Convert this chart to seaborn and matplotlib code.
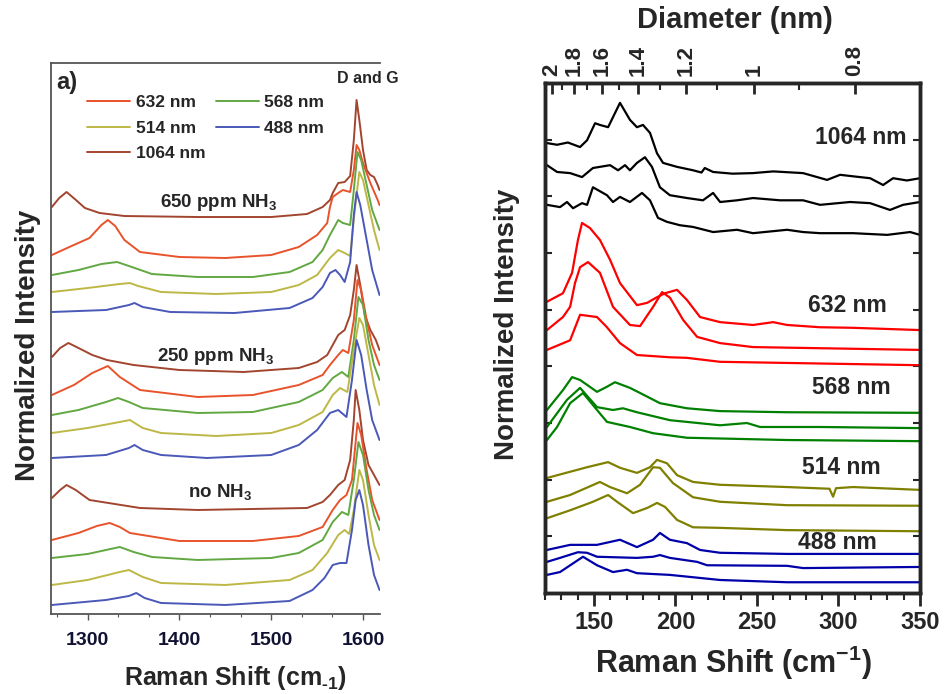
import matplotlib
matplotlib.use('Agg')
import matplotlib.pyplot as plt
import seaborn as sns
import pandas as pd
from matplotlib.ticker import MultipleLocator

sns.set_style('ticks')
plt.rcParams['font.family'] = ['Liberation Sans', 'DejaVu Sans']
plt.rcParams['font.weight'] = 'bold'
plt.rcParams['mathtext.fontset'] = 'custom'
plt.rcParams['mathtext.rm'] = 'Liberation Sans:bold'
plt.rcParams['mathtext.default'] = 'rm'

# ---- left panel: D and G bands, (shift cm-1, normalized intensity) ----
g650_1064 = [(1261, 40.7), (1269, 41.6), (1277, 42.2), (1286, 41.5), (1297, 40.6), (1313, 40.1), (1340, 39.8),
             (1420, 39.7), (1500, 39.7), (1539, 40.0), (1556, 40.7), (1564, 41.4), (1567, 42.1), (1573, 43.1),
             (1580, 43.2), (1586, 43.8), (1590, 47.4), (1593, 51.4), (1596, 49.4), (1600, 46.4), (1604, 44.4),
             (1608, 43.9), (1612, 43.7), (1616, 42.9), (1618, 42.4)]
g650_632 = [(1261, 35.9), (1280, 36.7), (1302, 37.6), (1315, 38.9), (1322, 39.4), (1330, 38.8), (1340, 37.4),
            (1357, 36.2), (1400, 35.7), (1450, 35.6), (1500, 35.9), (1530, 36.7), (1550, 37.9), (1561, 39.1),
            (1564, 40.7), (1567, 41.7), (1573, 42.1), (1578, 42.4), (1586, 42.2), (1590, 44.4), (1593, 46.9),
            (1596, 46.4), (1600, 45.1), (1608, 43.1), (1616, 41.4), (1618, 40.9)]
g650_568 = [(1261, 33.9), (1290, 34.4), (1315, 35.0), (1332, 35.2), (1345, 34.8), (1370, 34.0), (1420, 33.7),
            (1480, 33.7), (1520, 34.2), (1545, 35.2), (1556, 36.4), (1564, 37.9), (1573, 39.4), (1578, 39.1),
            (1586, 38.9), (1590, 42.4), (1594, 46.2), (1598, 45.4), (1604, 42.9), (1610, 40.4), (1618, 38.4)]
g650_514 = [(1261, 32.2), (1300, 32.6), (1335, 33.0), (1346, 33.1), (1355, 32.8), (1380, 32.2), (1440, 32.0),
            (1500, 32.2), (1530, 32.9), (1550, 33.9), (1564, 35.6), (1573, 36.4), (1580, 36.1), (1586, 35.8),
            (1591, 40.4), (1596, 44.2), (1600, 43.4), (1606, 40.9), (1612, 38.4), (1618, 36.4)]
g650_488 = [(1261, 30.2), (1320, 30.4), (1345, 30.9), (1351, 31.1), (1360, 30.7), (1390, 30.2), (1460, 30.1),
            (1520, 30.6), (1545, 31.6), (1556, 32.7), (1564, 34.1), (1570, 34.4), (1575, 33.9), (1580, 33.2),
            (1586, 35.2), (1590, 39.9), (1593, 42.2), (1597, 40.9), (1604, 37.4), (1610, 34.4), (1618, 31.9)]

g250_1064 = [(1261, 25.7), (1270, 26.6), (1279, 27.1), (1290, 26.6), (1305, 25.9), (1321, 25.4), (1350, 24.9),
             (1400, 24.4), (1470, 24.2), (1530, 24.6), (1550, 25.2), (1561, 25.9), (1567, 26.9), (1573, 27.9),
             (1580, 28.4), (1586, 29.9), (1590, 32.4), (1593, 34.9), (1597, 32.9), (1602, 29.9), (1608, 28.4),
             (1614, 27.4), (1618, 26.4)]
g250_632 = [(1261, 21.9), (1285, 22.9), (1305, 24.1), (1322, 24.8), (1335, 23.7), (1357, 22.4), (1420, 21.7),
            (1480, 21.9), (1530, 22.9), (1556, 23.9), (1564, 24.9), (1573, 25.9), (1578, 26.4), (1584, 26.1),
            (1590, 29.4), (1594, 33.4), (1598, 32.4), (1604, 29.4), (1610, 26.9), (1618, 24.9)]
g250_568 = [(1261, 19.9), (1290, 20.4), (1320, 21.2), (1333, 21.6), (1345, 21.2), (1360, 20.6), (1420, 20.1),
            (1480, 20.2), (1530, 21.2), (1556, 22.4), (1567, 23.6), (1577, 24.2), (1584, 23.7), (1590, 27.4),
            (1595, 31.7), (1600, 30.9), (1606, 27.4), (1612, 24.9), (1618, 23.4)]
g250_514 = [(1261, 18.1), (1300, 18.6), (1335, 19.2), (1346, 19.4), (1360, 18.6), (1380, 18.1), (1440, 17.8),
            (1500, 18.1), (1530, 18.9), (1556, 20.2), (1567, 21.9), (1575, 22.6), (1583, 22.2), (1590, 26.4),
            (1596, 29.6), (1600, 28.9), (1606, 25.9), (1612, 22.9), (1618, 20.9)]
g250_488 = [(1261, 15.6), (1320, 15.9), (1345, 16.6), (1351, 16.9), (1360, 16.4), (1380, 15.9), (1430, 15.6),
            (1500, 15.9), (1530, 16.9), (1550, 18.4), (1564, 20.1), (1573, 20.4), (1582, 19.7), (1588, 23.4),
            (1593, 27.4), (1598, 25.9), (1604, 22.4), (1610, 19.4), (1618, 17.4)]

g0_1064 = [(1261, 11.6), (1270, 12.4), (1277, 12.9), (1287, 12.4), (1302, 11.4), (1357, 10.6), (1420, 10.4),
           (1539, 10.6), (1556, 11.2), (1564, 11.9), (1573, 12.9), (1580, 13.4), (1586, 15.4), (1590, 19.4),
           (1592, 22.4), (1596, 20.4), (1600, 17.4), (1606, 14.9), (1612, 13.9), (1618, 12.9)]
g0_632 = [(1261, 7.4), (1290, 8.1), (1310, 8.8), (1324, 9.1), (1335, 8.7), (1346, 8.1), (1400, 7.3), (1480, 7.3),
          (1530, 7.8), (1556, 8.7), (1567, 10.4), (1575, 11.4), (1582, 11.9), (1588, 13.4), (1594, 19.1),
          (1598, 17.9), (1604, 14.4), (1610, 11.4), (1618, 9.4)]
g0_568 = [(1261, 5.6), (1300, 6.0), (1325, 6.5), (1335, 6.7), (1350, 6.2), (1370, 5.7), (1420, 5.4), (1500, 5.6),
          (1530, 6.1), (1556, 7.4), (1567, 9.2), (1577, 10.2), (1584, 9.9), (1590, 13.4), (1595, 17.2),
          (1600, 15.9), (1606, 12.4), (1612, 9.9), (1618, 8.4)]
g0_514 = [(1261, 2.9), (1300, 3.4), (1335, 4.2), (1345, 4.4), (1360, 3.7), (1380, 3.1), (1450, 2.9), (1520, 3.4),
          (1545, 4.4), (1561, 6.1), (1573, 7.9), (1580, 8.4), (1585, 8.0), (1590, 10.4), (1596, 14.4),
          (1600, 13.4), (1606, 9.9), (1612, 6.9), (1618, 5.4)]
g0_488 = [(1261, 0.9), (1320, 1.4), (1345, 1.8), (1353, 2.1), (1362, 1.6), (1380, 1.1), (1450, 0.9), (1520, 1.3),
          (1545, 2.4), (1558, 3.6), (1567, 4.9), (1575, 5.1), (1582, 5.1), (1588, 8.4), (1592, 11.4),
          (1596, 12.4), (1600, 10.9), (1606, 6.9), (1612, 3.9), (1618, 2.4)]

# ---- right panel: RBM region ----
rbm_1064 = [
    [(121.2, 7.94), (127.4, 7.91), (134, 7.95), (141.5, 7.87), (145.8, 7.99), (150.7, 8.29), (153.7, 8.26),
     (158.7, 8.22), (166, 8.65), (172.1, 8.35), (176.4, 8.22), (180.1, 8.26), (184.4, 8.12), (188.7, 7.76),
     (192.4, 7.59), (201, 7.52), (210.8, 7.46), (216, 7.42), (218, 7.50), (223.1, 7.43), (235, 7.40),
     (247.6, 7.41), (260, 7.44), (278.3, 7.41), (293, 7.29), (301, 7.38), (310, 7.35), (319.4, 7.32),
     (327.4, 7.20), (333.5, 7.32), (342, 7.28), (350, 7.32)],
    [(121.2, 7.55), (127.4, 7.43), (135.4, 7.41), (142.7, 7.34), (149.4, 7.50), (159.9, 7.55), (164.8, 7.46),
     (169.1, 7.55), (172.1, 7.46), (176.4, 7.59), (181.3, 7.69), (185.6, 7.52), (190.5, 7.16), (196.6, 7.02),
     (207.1, 6.97), (216.9, 6.93), (223.1, 7.06), (227.4, 6.90), (237.8, 6.93), (247.6, 6.97), (264.2, 6.93),
     (278.3, 6.93), (288.7, 6.85), (307.1, 6.90), (319.4, 6.88), (331.6, 6.76), (339.6, 6.85), (350, 6.90)],
    [(121.2, 6.85), (129.2, 6.81), (133.5, 6.90), (137.2, 6.79), (142.7, 6.88), (145.8, 6.85), (149.4, 7.16),
     (158, 7.02), (161.7, 6.90), (166, 6.99), (172.1, 6.90), (179.5, 7.06), (184.4, 6.93), (189.3, 6.62),
     (194.8, 6.55), (202.8, 6.49), (210.8, 6.46), (223.1, 6.37), (237.8, 6.41), (247.6, 6.35), (268.5, 6.41),
     (278.3, 6.37), (288.7, 6.35), (309, 6.35), (329.9, 6.32), (344, 6.37), (350, 6.32)],
]
rbm_632 = [
    [(121.2, 5.14), (131, 5.29), (136.6, 5.65), (140.2, 6.23), (142.7, 6.53), (147.6, 6.44), (153.7, 6.23),
     (159.9, 5.88), (166, 5.47), (176.4, 5.08), (182.6, 5.12), (188.7, 5.22), (193.6, 5.29), (201, 5.35),
     (207.1, 5.17), (215.1, 4.87), (227.4, 4.78), (247.6, 4.73), (259.9, 4.78), (268.5, 4.73), (288.7, 4.69),
     (309, 4.68), (350, 4.64)],
    [(121.2, 4.64), (131, 4.87), (135.4, 5.05), (138.4, 5.47), (141.5, 5.75), (146.4, 5.84), (153.7, 5.65),
     (161.7, 5.05), (172.1, 4.73), (178.3, 4.71), (186.3, 5.05), (191.8, 5.31), (196.7, 5.21), (204.7, 4.82),
     (213.3, 4.52), (227.4, 4.41), (247.6, 4.34), (288.7, 4.32), (350, 4.29)],
    [(121.2, 4.29), (135.4, 4.46), (141.5, 4.91), (151.9, 4.87), (158, 4.69), (166, 4.41), (176.4, 4.20),
     (196.6, 4.16), (207.1, 4.15), (227.4, 4.08), (268.5, 4.06), (350, 4.02)],
]
rbm_568 = [
    [(121.2, 3.23), (131, 3.58), (136.6, 3.81), (141.5, 3.76), (151.9, 3.55), (158, 3.64), (162.9, 3.72),
     (172.1, 3.62), (178.3, 3.53), (190.5, 3.35), (207.1, 3.26), (227.4, 3.21), (268.5, 3.19), (350, 3.18)],
    [(121.2, 2.93), (133.5, 3.41), (141.5, 3.62), (151.9, 3.28), (161.7, 3.23), (167.8, 3.26), (176.4, 3.19),
     (196.6, 3.05), (227.4, 2.96), (243.9, 3.00), (251.9, 2.93), (288.7, 2.93), (350, 2.91)],
    [(121.2, 2.70), (127.4, 2.93), (135.4, 3.35), (143.3, 3.53), (151.9, 3.23), (158, 3.02), (172.1, 2.93),
     (186.3, 2.82), (207.1, 2.74), (268.5, 2.70), (350, 2.68)],
]
rbm_514 = [
    [(121.2, 2.03), (135.4, 2.14), (145.8, 2.22), (158.7, 2.31), (166, 2.21), (176.4, 2.12), (184.4, 2.22),
     (188.7, 2.35), (194.8, 2.29), (201, 2.08), (210.8, 1.96), (227.4, 1.91), (268.5, 1.87), (294.5, 1.84),
     (296.7, 1.70), (298.5, 1.85), (309, 1.87), (350, 1.82)],
    [(121.2, 1.61), (135.4, 1.73), (153.7, 1.96), (159.9, 1.87), (170.3, 1.76), (178.3, 1.91), (186.3, 2.22),
     (190.5, 2.21), (198.5, 1.94), (210.8, 1.69), (227.4, 1.61), (268.5, 1.55), (350, 1.54)],
    [(121.2, 1.32), (135.4, 1.46), (149.4, 1.61), (158.7, 1.73), (164.2, 1.61), (174, 1.41), (182.6, 1.50),
     (188.7, 1.59), (193.6, 1.52), (201, 1.29), (210.8, 1.16), (227.4, 1.15), (268.5, 1.11), (350, 1.09)],
]
rbm_488 = [
    [(121.2, 0.76), (135.4, 0.85), (151.9, 0.85), (166, 0.94), (176.4, 0.81), (186.3, 0.94), (190.5, 1.06),
     (196.6, 0.94), (207.1, 0.88), (215.1, 0.76), (227.4, 0.71), (268.5, 0.69), (350, 0.69)],
    [(121.2, 0.55), (129.2, 0.62), (140.2, 0.72), (145.8, 0.71), (151.9, 0.64), (176.4, 0.62), (186.3, 0.64),
     (190.5, 0.67), (196.6, 0.62), (213.3, 0.55), (219.4, 0.49), (268.5, 0.48), (278.3, 0.44), (350, 0.46)],
    [(121.2, 0.32), (129.2, 0.37), (143.3, 0.64), (151.9, 0.49), (161.7, 0.37), (170.3, 0.41), (176.4, 0.35),
     (196.6, 0.32), (227.4, 0.23), (268.5, 0.19), (350, 0.19)],
]

diam_major = [2, 1.8, 1.6, 1.4, 1.2, 1, 0.8]
diam_minor = [1.9, 1.7, 1.5, 1.3, 1.1, 0.9]
lasers = ['1064 nm', '632 nm', '568 nm', '514 nm', '488 nm']

left_colors = {'1064 nm': '#a2452f', '632 nm': '#e8532b', '568 nm': '#62a842', '514 nm': '#bdb845', '488 nm': '#4a58b8'}
right_colors = {'1064 nm': 'black', '632 nm': '#ff0000', '568 nm': '#008000', '514 nm': '#808000', '488 nm': '#0000a8'}


def draw(ax, pts, color, lw):
    df = pd.DataFrame(pts, columns=['shift', 'intensity'])
    sns.lineplot(data=df, x='shift', y='intensity', ax=ax, color=color, lw=lw,
                 sort=False, estimator=None, legend=False)
    return ax.lines[-1]


fig = plt.figure(figsize=(9.49, 6.94), dpi=100)

# ---------------- left ----------------
axl = fig.add_axes([0.0537, 0.1153, 0.3467, 0.7939])
groups = [[g650_1064, g650_632, g650_568, g650_514, g650_488],
          [g250_1064, g250_632, g250_568, g250_514, g250_488],
          [g0_1064, g0_632, g0_568, g0_514, g0_488]]
handles = {}
for grp in groups:
    for name, pts in zip(lasers, grp):
        handles[name] = draw(axl, pts, left_colors[name], 1.4)

axl.set_xlim(1260, 1618.5)
axl.set_ylim(0, 55.1)
axl.set_xlabel('')
axl.set_ylabel('')
axl.set_yticks([])
axl.set_xticks([1300, 1400, 1500, 1600])
axl.xaxis.set_minor_locator(MultipleLocator(100 / 3))
axl.tick_params(axis='x', which='major', direction='out', length=4, width=1, colors='#555555',
                labelcolor='#111133', labelsize=14, pad=9)
axl.tick_params(axis='x', which='minor', direction='out', length=2.5, width=0.8, colors='#555555')
for s in ['left', 'top', 'bottom']:
    axl.spines[s].set_color('#555555')
    axl.spines[s].set_linewidth(1.3)
axl.spines['right'].set_visible(False)

order = ['632 nm', '514 nm', '1064 nm', '568 nm', '488 nm']
axl.legend([handles[k] for k in order], order, ncol=2, frameon=False, fontsize=12.5,
           loc='upper left', bbox_to_anchor=(87 / 949, 1 - 95 / 694), bbox_transform=fig.transFigure,
           borderpad=0, borderaxespad=0, handlelength=2.5, handletextpad=0.3,
           columnspacing=0.6, labelspacing=0.6)

axl.text(1266, 53.2, 'a)', fontsize=17, fontweight='bold', ha='left', va='center')
axl.text(1571.5, 53.6, 'D and G', fontsize=11.5, fontweight='bold', ha='left', va='center', clip_on=False)
axl.text(1378.5, 41.2, '650 ppm NH$_3$', fontsize=13.5, ha='left', va='center')
axl.text(1375.2, 25.7, '250 ppm NH$_3$', fontsize=13.5, ha='left', va='center')
axl.text(1409, 12.2, 'no NH$_3$', fontsize=13.5, ha='left', va='center')

fig.text(28 / 949, 1 - 345 / 694, 'Normalized Intensity', rotation=90, ha='center', va='center',
         fontsize=20, fontweight='bold')
fig.text(235 / 949, 1 - 678 / 694, 'Raman Shift (cm$_{\\text{-1}}$)', ha='center', va='center',
         fontsize=18, fontweight='bold')

# ---------------- right ----------------
axr = fig.add_axes([0.5743, 0.1455, 0.3951, 0.7349])
for name, curves in zip(lasers, [rbm_1064, rbm_632, rbm_568, rbm_514, rbm_488]):
    for pts in curves:
        draw(axr, pts, right_colors[name], 1.6)

axr.set_xlim(120, 350)
axr.set_ylim(0, 9)
axr.set_xlabel('')
axr.set_ylabel('')
axr.set_xticks([150, 200, 250, 300, 350])
axr.xaxis.set_minor_locator(MultipleLocator(10))
axr.set_yticks(range(1, 9))
axr.tick_params(axis='x', which='major', direction='out', length=9, width=2, labelsize=17, pad=4)
axr.tick_params(axis='x', which='minor', direction='out', length=5, width=1.5)
axr.tick_params(axis='y', which='major', left=True, right=True, labelleft=False, direction='in',
                length=5, width=1.5)
for s in axr.spines.values():
    s.set_linewidth(2.5)

axt = axr.twiny()
axt.set_xlim(120, 350)
axt.set_xticks([248 / d for d in diam_major])
axt.set_xticklabels([f'{d:g}' for d in diam_major], rotation=90, fontsize=16)
axt.set_xticks([248 / d for d in diam_minor], minor=True)
axt.tick_params(axis='x', which='major', direction='in', length=8, width=2, pad=5)
axt.tick_params(axis='x', which='minor', direction='in', length=5, width=1.5)
for s in axt.spines.values():
    s.set_linewidth(2.5)

axr.text(285.6, 8.03, '1064 nm', fontsize=16.5, ha='left', va='center')
axr.text(281.3, 5.08, '632 nm', fontsize=16.5, ha='left', va='center')
axr.text(283.8, 3.62, '568 nm', fontsize=16.5, ha='left', va='center')
axr.text(277.7, 2.22, '514 nm', fontsize=16.5, ha='left', va='center')
axr.text(275.2, 0.90, '488 nm', fontsize=16.5, ha='left', va='center')

fig.text(507 / 949, 1 - 324 / 694, 'Normalized Intensity', rotation=90, ha='center', va='center',
         fontsize=20, fontweight='bold')
fig.text(733 / 949, 1 - 663 / 694, 'Raman Shift (cm$^{-1}$)', ha='center', va='center',
         fontsize=22, fontweight='bold')
fig.text(735 / 949, 1 - 20 / 694, 'Diameter (nm)', ha='center', va='center',
         fontsize=21, fontweight='bold')

fig.savefig('out.png', dpi=100)
